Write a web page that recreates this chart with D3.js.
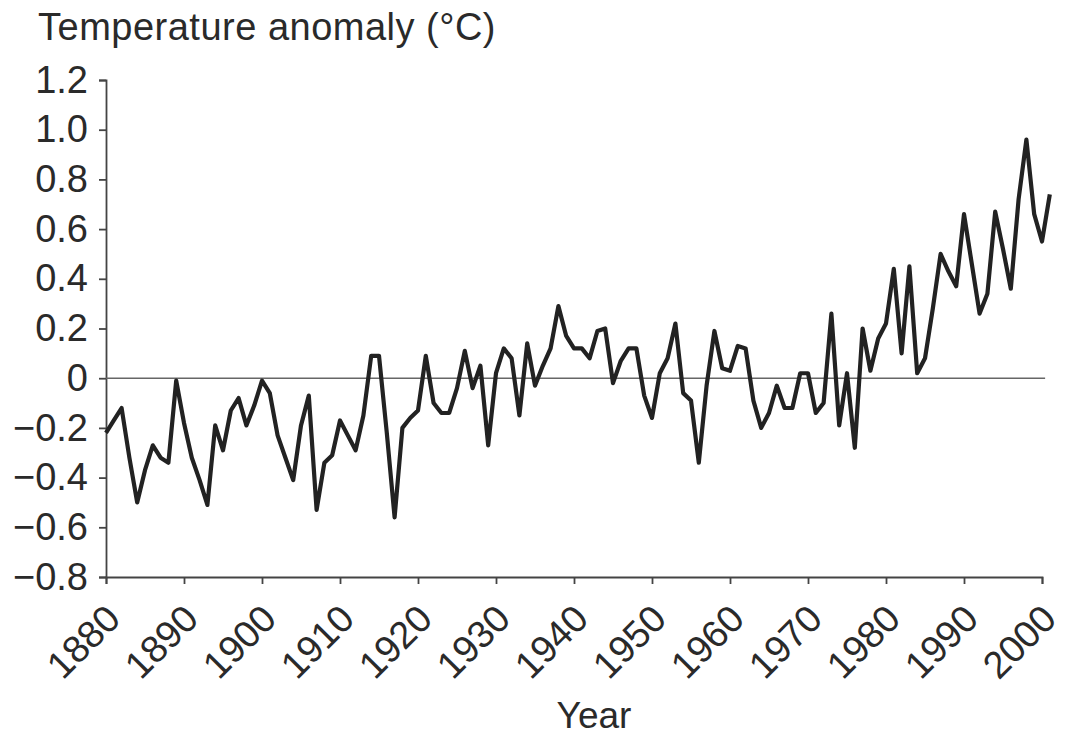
<!DOCTYPE html>
<html lang="en">
<head>
<meta charset="UTF-8">
<title>Temperature anomaly</title>
<script src="https://d3js.org/d3.v7.min.js"></script>
<style>
  body { margin: 0; background: #fff; }
  text { font-family: "Liberation Sans", Arial, sans-serif; fill: #2a2a2a; }
</style>
</head>
<body>
<svg class="canvas"></svg>
<script>
// data, one value per year starting at firstYear
var firstYear = 1880;
var anomalies = [
  -0.22, -0.17, -0.12, -0.32, -0.50, -0.37, -0.27, -0.32, -0.34, -0.01,  // 1880s
  -0.18, -0.32, -0.41, -0.51, -0.19, -0.29, -0.13, -0.08, -0.19, -0.11,  // 1890s
  -0.01, -0.06, -0.23, -0.32, -0.41, -0.19, -0.07, -0.53, -0.34, -0.31,  // 1900s
  -0.17, -0.23, -0.29, -0.15,  0.09,  0.09, -0.22, -0.56, -0.20, -0.16,  // 1910s
  -0.13,  0.09, -0.10, -0.14, -0.14, -0.04,  0.11, -0.04,  0.05, -0.27,  // 1920s
   0.02,  0.12,  0.08, -0.15,  0.14, -0.03,  0.05,  0.12,  0.29,  0.17,  // 1930s
   0.12,  0.12,  0.08,  0.19,  0.20, -0.02,  0.07,  0.12,  0.12, -0.07,  // 1940s
  -0.16,  0.02,  0.08,  0.22, -0.06, -0.09, -0.34, -0.03,  0.19,  0.04,  // 1950s
   0.03,  0.13,  0.12, -0.09, -0.20, -0.14, -0.03, -0.12, -0.12,  0.02,  // 1960s
   0.02, -0.14, -0.10,  0.26, -0.19,  0.02, -0.28,  0.20,  0.03,  0.16,  // 1970s
   0.22,  0.44,  0.10,  0.45,  0.02,  0.08,  0.28,  0.50,  0.43,  0.37,  // 1980s
   0.66,  0.46,  0.26,  0.34,  0.67,  0.52,  0.36,  0.72,  0.96,  0.66,  // 1990s
   0.55,  0.74                                                            // 2000s
];
var yearTicks = [1880, 1890, 1900, 1910, 1920, 1930, 1940, 1950, 1960, 1970, 1980, 1990, 2000];
var valueTicks = [-0.8, -0.6, -0.4, -0.2, 0, 0.2, 0.4, 0.6, 0.8, 1.0, 1.2];
var yTitle = 'Temperature anomaly (\u00B0C)', xTitle = 'Year';

var svg_width = 1065, svg_height = 740;
var svg = d3.select('svg').attr('width', svg_width).attr('height', svg_height);

var xScale = d3.scaleLinear().domain([1880, 2000]).range([106, 1042]),
    yScale = d3.scaleLinear().domain([-0.8, 1.2]).range([577, 80]);

var dataset = anomalies.map(function(v, i) { return {year: firstYear + i, value: v}; });

// axes
var yAxis = d3.axisLeft(yScale).tickValues(valueTicks).tickSizeOuter(0).tickSize(7).tickPadding(11)
    .tickFormat(function(d) { return d === 0 ? '0' : d3.format('.1f')(d); });
var xAxis = d3.axisBottom(xScale).tickValues(yearTicks).tickSizeOuter(0).tickSize(7)
    .tickFormat(d3.format('d'));

var gy = svg.append('g').attr('transform', 'translate(' + xScale(1880) + ',0)').call(yAxis);
var gx = svg.append('g').attr('transform', 'translate(0,' + yScale(-0.8) + ')').call(xAxis);

[gx, gy].forEach(function(g) {
    g.select('.domain').attr('stroke', '#444').attr('stroke-width', 1.8);
    g.selectAll('.tick line').attr('stroke', '#444').attr('stroke-width', 1.8);
    g.selectAll('text').attr('font-size', 38).attr('fill', '#2a2a2a')
        .attr('font-family', '"Liberation Sans", Arial, sans-serif');
});

gx.selectAll('.tick text')
    .attr('text-anchor', 'end')
    .attr('y', 0).attr('dy', 0)
    .attr('transform', 'translate(16,44) rotate(-45)');

// zero reference line
svg.append('line')
    .attr('x1', xScale(1880)).attr('x2', xScale(2000.4))
    .attr('y1', yScale(0)).attr('y2', yScale(0))
    .attr('stroke', '#666').attr('stroke-width', 1.6);

// anomaly series
var line = d3.line()
    .x(function(d) { return xScale(d.year); })
    .y(function(d) { return yScale(d.value); });

svg.append('path')
    .datum(dataset)
    .attr('d', line)
    .attr('fill', 'none')
    .attr('stroke', '#222')
    .attr('stroke-width', 4.2)
    .attr('stroke-linejoin', 'round');

// titles
svg.append('text').attr('x', 38).attr('y', 40).attr('font-size', 38)
    .attr('letter-spacing', 0.5).text(yTitle);
svg.append('text').attr('x', 594).attr('y', 728).attr('font-size', 37)
    .attr('text-anchor', 'middle').text(xTitle);
</script>
</body>
</html>
